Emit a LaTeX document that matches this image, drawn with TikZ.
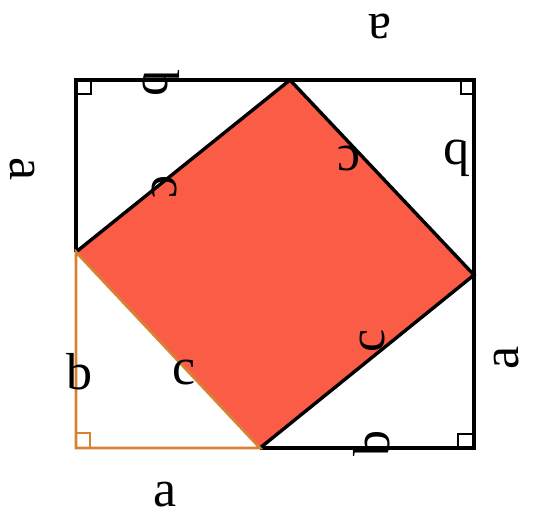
\documentclass[tikz,border=0pt]{standalone}
\usepackage{fontspec}
\usetikzlibrary{calc}
\setmainfont{Liberation Serif}
\definecolor{fillred}{RGB}{250,92,70}
\definecolor{edgeorange}{RGB}{214,130,50}
\begin{document}
\begin{tikzpicture}[x=1pt,y=-1pt,
  lbl/.style={inner sep=0pt,font=\fontsize{52}{52}\selectfont},
  blk/.style={line width=3.4pt,black,line join=miter},
  org/.style={line width=2.8pt,edgeorange,line join=miter},
  rmark/.style={line width=2.6pt}]
\useasboundingbox (0,0) rectangle (541,513);
% corners and vertices
\coordinate (TL) at (76,80);
\coordinate (TR) at (474,80);
\coordinate (BR) at (474,448);
\coordinate (BL) at (76,448);
\coordinate (T) at (290,80);
\coordinate (R) at (474,275);
\coordinate (B) at (260,448);
\coordinate (L) at (76,252);
% red square
\fill[fillred] (L) -- (T) -- (R) -- (B) -- cycle;
% black edges
\draw[blk] (L) -- (TL) -- (TR) -- (BR) -- (B);
\draw[blk] (L) -- (T) -- (R) -- (B);
% orange triangle
\draw[org] (L) -- (BL) -- (B) -- cycle;
% right-angle markers
\draw[rmark,black] ($(TL)+(15,0)$) |- ($(TL)+(0,14)$);
\draw[rmark,black] ($(TR)+(-13,0)$) |- ($(TR)+(0,14)$);
\draw[rmark,black] ($(BR)+(-16,0)$) |- ($(BR)+(0,-14)$);
\draw[rmark,edgeorange] ($(BL)+(14,0)$) |- ($(BL)+(0,-15)$);
% labels: bottom-left triangle
\node[lbl] (bl-b) at (79,372) {b};
\node[lbl] (bl-c) at (184,373) {c};
\node[lbl] (bl-a) at (165,495) {a};
% top-left triangle
\node[lbl,rotate=-90] (tl-a) at (22,169) {a};
\node[lbl,rotate=-90] (tl-b) at (161,84) {b};
\node[lbl,rotate=-90] (tl-c) at (164,187) {c};
% top-right triangle
\node[lbl,rotate=180] (tr-a) at (380,26) {a};
\node[lbl,rotate=180] (tr-b) at (456,158) {b};
\node[lbl,rotate=180] (tr-c) at (349,158) {c};
% bottom-right triangle
\node[lbl,rotate=90] (br-a) at (507,358) {a};
\node[lbl,rotate=90] (br-b) at (372,443) {b};
\node[lbl,rotate=90] (br-c) at (372,341) {c};
\end{tikzpicture}
\end{document}
